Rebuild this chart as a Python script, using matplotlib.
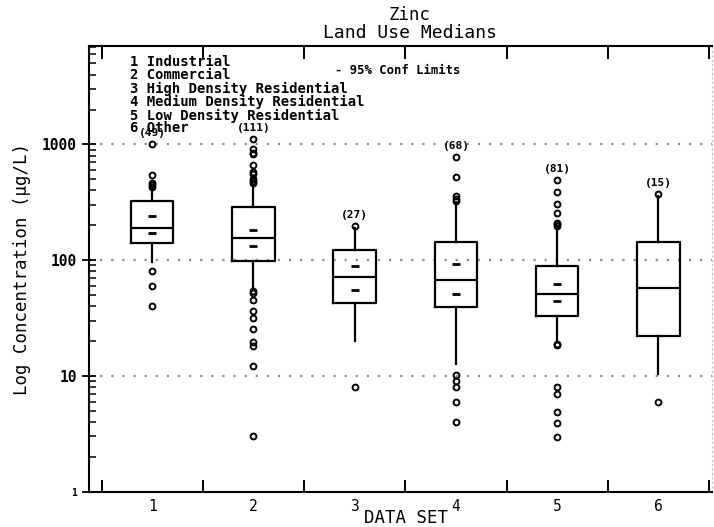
import matplotlib
matplotlib.use("Agg")
import matplotlib.pyplot as plt
import numpy as np

# ---------------- data ----------------
categories = [1, 2, 3, 4, 5, 6]
counts = [49, 111, 27, 68, 81, 15]
q1 = [141, 98, 42.6, 39.4, 33.1, 22.2]
medians = [190, 156, 71.6, 66.9, 51, 57.5]
q3 = [323, 289, 121.6, 142.6, 88.4, 142.6]
whisker_low = [97, 56.7, 20.2, 12.7, 19.5, 10.4]
whisker_high = [420, 445, 190, 312, 199, 360]
ci_low = [172, 132, 54.8, 51.3, 44, np.nan]
ci_high = [243, 181, 89.6, 92.7, 62.6, np.nan]
outliers_1 = [1010, 540, 460, 445, 430, 80, 60, 40]
outliers_2 = [1120, 915, 845, 820, 670, 575, 550, 500, 480, 460,
              54, 52, 45.5, 36.6, 31.6, 25.4, 19.6, 18, 12.2, 3.05]
outliers_3 = [199, 8.1]
outliers_4 = [780, 525, 356, 340, 327, 10.2, 9.1, 8.1, 6.0, 4.0]
outliers_5 = [497, 386, 306, 256, 210, 204, 199, 19, 18.5, 8.1, 7.0, 4.9, 3.95, 2.96]
outliers_6 = [374, 5.9]
outliers = [outliers_1, outliers_2, outliers_3, outliers_4, outliers_5, outliers_6]
legend_lines = ["1 Industrial", "2 Commercial", "3 High Density Residential",
                "4 Medium Density Residential", "5 Low Density Residential", "6 Other"]
ytick_values = [1, 10, 100, 1000]
ytick_labels = ["1", "10", "100", "1000"]

FONT = "DejaVu Sans Mono"
plt.rcParams['font.family'] = [FONT, 'DejaVu Sans']

fig = plt.figure(figsize=(7.14, 5.27), dpi=100)
ax = fig.add_axes([0.1253, 0.067, 0.872, 0.8457])

stats = []
for i in range(len(categories)):
    stats.append(dict(med=medians[i], q1=q1[i], q3=q3[i],
                      whislo=whisker_low[i], whishi=whisker_high[i],
                      fliers=outliers[i]))

ax.bxp(stats, positions=categories, widths=0.42, showcaps=False,
       boxprops=dict(color='black', linewidth=1.6),
       whiskerprops=dict(color='black', linewidth=1.6),
       medianprops=dict(color='black', linewidth=1.6),
       flierprops=dict(marker='o', markersize=4.2, markerfacecolor='none',
                       markeredgecolor='black', markeredgewidth=1.4))

# confidence limit dashes
ax.plot(categories, ci_low, linestyle='none', marker='_', markersize=6,
        markeredgewidth=2, color='black')
ax.plot(categories, ci_high, linestyle='none', marker='_', markersize=6,
        markeredgewidth=2, color='black')

# count labels
for i, c in enumerate(categories):
    top = max([whisker_high[i]] + outliers[i])
    ax.annotate(f"({counts[i]})", xy=(c, top), xytext=(0, 7.5),
                textcoords='offset points', ha='center', va='center',
                fontsize=8, fontweight='bold')

ax.set_yscale('log')
ax.set_ylim(1, 10 ** 3.85)
ax.set_xlim(0.38, 6.53)

# dotted gridlines
for v in [10, 100, 1000]:
    ax.axhline(v, color='0.55', linestyle=(0, (1, 4)), linewidth=1.6, zorder=0)

# x ticks: marks at half positions, labels at category centers
ax.set_xticks(np.arange(0.5, 7.0, 1.0))
ax.set_xticklabels([])
ax.set_xticks(categories, minor=True)
ax.set_xticklabels([str(c) for c in categories], minor=True)
ax.tick_params(axis='x', which='major', direction='in', length=9, width=1.4,
               top=True, bottom=True)
ax.tick_params(axis='x', which='minor', length=0, labelsize=10.5, pad=5)

ax.set_yticks(ytick_values)
ax.set_yticklabels(ytick_labels)
ax.tick_params(axis='y', which='major', direction='inout', length=10, width=1.3,
               labelsize=10.5, pad=4)
ax.tick_params(axis='y', which='minor', direction='in', length=5, width=1.1,
               labelleft=False)
for lab in ax.get_yticklabels():
    lab.set_fontweight('bold')
    if lab.get_text() == "1":
        lab.set_fontsize(7)

for side in ['left', 'bottom', 'top']:
    ax.spines[side].set_linewidth(1.5)
ax.spines['right'].set_color('0.75')
ax.spines['right'].set_linestyle((0, (1, 3)))
ax.spines['right'].set_linewidth(0.8)

ax.set_ylabel("Log Concentration (\u00b5g/L)", fontsize=12.5, labelpad=8)
fig.text(406 / 714, 1 - 518 / 527, "DATA SET", ha='center', va='center',
         fontsize=12.5)

# title
fig.text(0.574, 0.972, "Zinc", ha='center', va='center', fontsize=12.5)
fig.text(0.574, 0.937, "Land Use Medians", ha='center', va='center', fontsize=13)

# legend text, in three blocks so that no block covers the other labels
line_px = 13.2
first_px = 61.5
blocks = [(0, 2), (2, 5), (5, 6)]
for a, b in blocks:
    y_top = first_px + a * line_px
    fig.text(130 / 714, 1 - y_top / 527, "\n".join(legend_lines[a:b]),
             ha='left', va='center' if b - a == 1 else 'top',
             fontsize=10, fontweight='bold', linespacing=0.95)
# fix vertical anchors: multi-line blocks were anchored at top, shift them
for t in fig.texts[-3:]:
    n = t.get_text().count("\n") + 1
    if n > 1:
        x, y = t.get_position()
        t.set_position((x, y + 6.5 / 527))
fig.text(335 / 714, 1 - 70 / 527, "- 95% Conf Limits", ha='left', va='center',
         fontsize=8.8, fontweight='bold')

fig.savefig("out.png", dpi=100)
